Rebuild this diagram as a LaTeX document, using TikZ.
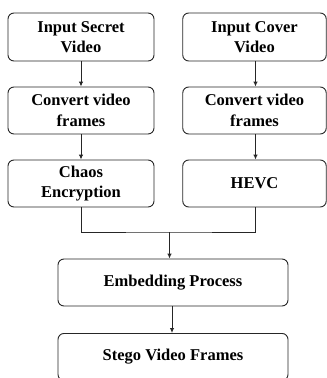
\documentclass[tikz,border=0pt]{standalone}
\usepackage{fontspec}
\setmainfont{Liberation Serif}
\usetikzlibrary{arrows.meta}
\begin{document}
\begin{tikzpicture}[x=1pt,y=-1pt,
  box/.style={draw=black!85,line width=0.9pt,rounded corners=6pt,align=center,
    font=\fontsize{16.5}{20.5}\selectfont\bfseries,inner sep=0pt},
  arr/.style={draw=black!85,line width=0.9pt,-{Latex[length=5pt,width=4.5pt]}},
  ln/.style={draw=black!85,line width=0.9pt}]
\useasboundingbox (0,0) rectangle (327,378);
\begin{scope}
\clip (0,0) rectangle (327,378);
\node[box,minimum width=146pt,minimum height=48pt] (s1) at (81,37) {Input Secret\\Video};
\node[box,minimum width=143.5pt,minimum height=48pt] (c1) at (254.5,37) {Input Cover\\Video};
\node[box,minimum width=146pt,minimum height=47pt] (s2) at (81,110.5) {Convert video\\frames};
\node[box,minimum width=143.5pt,minimum height=47pt] (c2) at (254.5,110.5) {Convert video\\frames};
\node[box,minimum width=146pt,minimum height=47pt] (s3) at (81,183.5) {Chaos\\Encryption};
\node[box,minimum width=143.5pt,minimum height=47pt] (c3) at (254.5,183.5) {HEVC};
\node[box,minimum width=230pt,minimum height=47pt] (e) at (173,282.5) {Embedding Process};
\node[box,minimum width=230pt,minimum height=47pt,anchor=north] (f) at (173,333) {};
\node[font=\fontsize{16.5}{20.5}\selectfont\bfseries] (ft) at (173,356.5) {Stego Video Frames};
\draw[arr] (s1.south -| 81,0) -- (s2.north -| 81,0);
\draw[arr] (c1.south -| 255.5,0) -- (c2.north -| 255.5,0);
\draw[arr] (s2.south -| 81,0) -- (s3.north -| 81,0);
\draw[arr] (c2.south -| 255.5,0) -- (c3.north -| 255.5,0);
\coordinate (j) at (169.5,232);
\draw[ln] (s3.south -| 81,0) |- (j) -| (c3.south -| 255.5,0);
\draw[arr] (j) -- (e.north -| j);
\draw[arr] (e.south -| 172,0) -- (f.north -| 172,0);
\end{scope}
\end{tikzpicture}
\end{document}
